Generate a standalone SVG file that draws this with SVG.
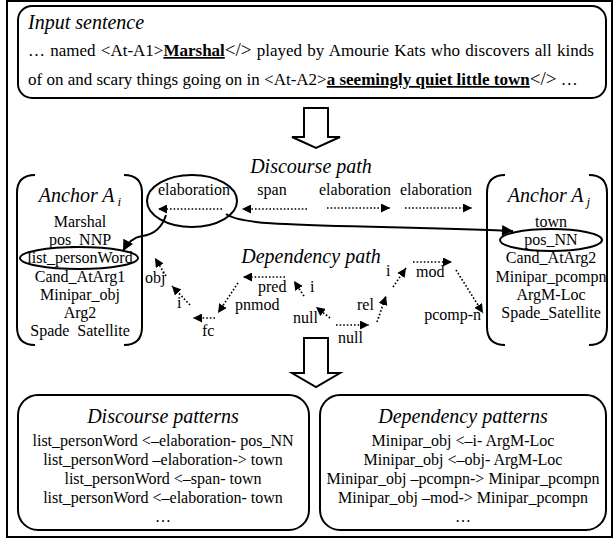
<svg xmlns="http://www.w3.org/2000/svg" width="615" height="542" viewBox="0 0 615 542">
<style>
.t{font-family:"Liberation Serif",Tinos,"Times New Roman",Times,"DejaVu Serif",serif;font-size:16px;fill:#000}
.ti{font-family:"Liberation Serif",Tinos,"Times New Roman",Times,"DejaVu Serif",serif;font-style:italic;font-size:20px;fill:#000}
.in{font-size:17px}
.c{text-anchor:middle}
.e{text-anchor:end}
.box{fill:none;stroke:#000;stroke-width:2}
.dot{fill:none;stroke:#000;stroke-width:1.7;stroke-dasharray:1.6 2;marker-end:url(#ah)}
.sol{fill:none;stroke:#000;stroke-width:2;marker-end:url(#ahb)}
.blk{fill:#fff;stroke:#000;stroke-width:2;stroke-linejoin:miter}
.b{font-weight:bold;text-decoration:underline}
.tag{font-size:19px}
</style>
<defs>
<marker id="ah" viewBox="0 0 10 10" refX="10" refY="5" markerUnits="userSpaceOnUse" markerWidth="9" markerHeight="9" orient="auto"><path d="M0,0 L10,5 L0,10 z" fill="#000"/></marker>
<marker id="ahb" viewBox="0 0 10 10" refX="10" refY="5" markerUnits="userSpaceOnUse" markerWidth="12" markerHeight="11" orient="auto"><path d="M0,0 L10,5 L0,10 z" fill="#000"/></marker>
</defs>
<rect x="7" y="1" width="605" height="536" fill="#fff" stroke="#000" stroke-width="2"/>

<g id="input">
<rect class="box" x="18" y="6" width="588" height="92" rx="14"/>
<text class="ti" x="28" y="29">Input sentence</text>
<text class="t in" x="28" y="56" word-spacing="1">… named &lt;At-A1&gt;<tspan class="b">Marshal</tspan><tspan class="tag">&lt;/&gt;</tspan> played by Amourie Kats who discovers all kinds</text>
<text class="t in" x="28" y="85">of on and scary things going on in &lt;At-A2&gt;<tspan class="b">a seemingly quiet little town</tspan><tspan class="tag">&lt;/&gt;</tspan> …</text>
</g>

<g id="arrow1"><polygon class="blk" points="304,108 328,108 328,137 340,137 316,148 292,137 304,137"/></g>

<g id="discourse-title"><text class="ti c" x="311" y="173">Discourse path</text></g>

<g id="anchorAi">
<path class="box" d="M35 175 Q17 175 17 193 V327 Q17 345 35 345 M124 175 Q142 175 142 193 V327 Q142 345 124 345"/>
<text class="ti c" x="80" y="202">Anchor A<tspan dx="3" dy="4" font-size="13">i</tspan></text>
<text class="t c" x="80" y="227">Marshal</text>
<text class="t c" x="80" y="245">pos_NNP</text>
<text class="t c" x="80" y="263">list_personWord</text>
<ellipse cx="79" cy="258" rx="59" ry="11" class="box"/>
<text class="t c" x="80" y="282">Cand_AtArg1</text>
<text class="t c" x="80" y="300">Minipar_obj</text>
<text class="t c" x="80" y="318">Arg2</text>
<text class="t c" x="80" y="336" style="white-space:pre">Spade  Satellite</text>
</g>

<g id="anchorAj">
<path class="box" d="M505 175 Q487 175 487 193 V327 Q487 345 505 345 M589 175 Q607 175 607 193 V327 Q607 345 589 345"/>
<text class="ti c" x="549" y="202">Anchor A<tspan dx="3" dy="4" font-size="13">j</tspan></text>
<text class="t c" x="551" y="227">town</text>
<text class="t c" x="551" y="245">pos_NN</text>
<ellipse cx="551" cy="240" rx="51" ry="11" class="box"/>
<text class="t c" x="551" y="263">Cand_AtArg2</text>
<text class="t c" x="551" y="282">Minipar_pcompn</text>
<text class="t c" x="551" y="300">ArgM-Loc</text>
<text class="t c" x="551" y="318">Spade_Satellite</text>
</g>

<g id="elab-node">
<ellipse cx="192" cy="201" rx="45" ry="26" class="box"/>
<text class="t c" x="194" y="195">elaboration</text>
</g>

<g id="discourse-labels">
<text class="t c" x="272" y="195">span</text>
<text class="t c" x="355" y="195">elaboration</text>
<text class="t c" x="436" y="195">elaboration</text>
</g>

<g id="dependency-title"><text class="ti c" x="311" y="263">Dependency path</text></g>

<g id="dependency-labels">
<text class="t" x="145" y="283">obj</text>
<text class="t" x="177" y="308">i</text>
<text class="t" x="202" y="336">fc</text>
<text class="t" x="235" y="310">pnmod</text>
<text class="t" x="258" y="292">pred</text>
<text class="t" x="310" y="292">i</text>
<text class="t" x="293" y="323">null</text>
<text class="t" x="338" y="343">null</text>
<text class="t" x="357" y="310">rel</text>
<text class="t" x="386" y="276">i</text>
<text class="t" x="416" y="277">mod</text>
<text class="t e" x="481" y="320">pcomp-n</text>
</g>

<g id="connectors">
<line class="dot" x1="222" y1="209" x2="158" y2="209"/>
<line class="dot" x1="307" y1="209" x2="242" y2="209"/>
<line class="dot" x1="327" y1="208" x2="390" y2="208"/>
<line class="dot" x1="405" y1="208" x2="472" y2="208"/>
<path class="sol" d="M166 215 Q160 234 142 236 Q130 238 123 251"/>
<path class="sol" d="M226 214 C245 228 330 224 513 231"/>
<line class="dot" x1="166" y1="276" x2="155" y2="258"/>
<line class="dot" x1="190" y1="305" x2="172" y2="286"/>
<line class="dot" x1="215" y1="318" x2="193" y2="318"/>
<line class="dot" x1="238" y1="283" x2="218" y2="313"/>
<line class="dot" x1="285" y1="277" x2="243" y2="277"/>
<line class="dot" x1="304" y1="296" x2="294" y2="281"/>
<line class="dot" x1="330" y1="318" x2="316" y2="307"/>
<line class="dot" x1="336" y1="325" x2="369" y2="325"/>
<line class="dot" x1="377" y1="322" x2="386" y2="296"/>
<line class="dot" x1="393" y1="287" x2="406" y2="268"/>
<line class="dot" x1="413" y1="262" x2="452" y2="262"/>
<line class="dot" x1="456" y1="270" x2="483" y2="313"/>
</g>

<g id="arrow2"><polygon class="blk" points="304,338 328,338 328,373 340,373 316,387 292,373 304,373"/></g>

<g id="discourse-patterns">
<rect class="box" x="18" y="395" width="291" height="135" rx="20"/>
<text class="ti c" x="163" y="423">Discourse patterns</text>
<text class="t c" x="163" y="446">list_personWord &lt;–elaboration- pos_NN</text>
<text class="t c" x="163" y="465">list_personWord –elaboration-&gt; town</text>
<text class="t c" x="163" y="484">list_personWord &lt;–span- town</text>
<text class="t c" x="163" y="503">list_personWord &lt;–elaboration- town</text>
<text class="t c" x="163" y="522">…</text>
</g>

<g id="dependency-patterns">
<rect class="box" x="320" y="395" width="286" height="135" rx="20"/>
<text class="ti c" x="463" y="423">Dependency patterns</text>
<text class="t c" x="463" y="446">Minipar_obj &lt;–i- ArgM-Loc</text>
<text class="t c" x="463" y="465">Minipar_obj &lt;–obj- ArgM-Loc</text>
<text class="t c" x="463" y="484">Minipar_obj –pcompn-&gt; Minipar_pcompn</text>
<text class="t c" x="463" y="503">Minipar_obj –mod-&gt; Minipar_pcompn</text>
<text class="t c" x="463" y="522">…</text>
</g>
</svg>
